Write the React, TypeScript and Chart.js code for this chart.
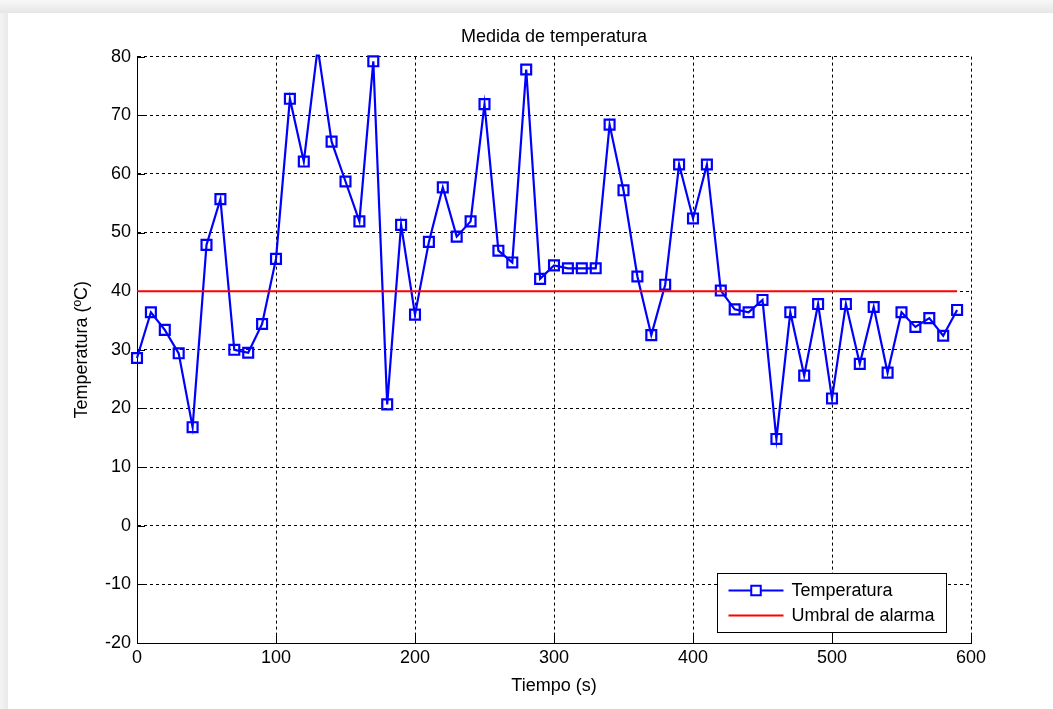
import React, { useEffect, useRef } from 'react';
import { Chart, registerables } from 'chart.js';

Chart.register(...registerables);

const FONT = '"Liberation Sans", Arial, Helvetica, sans-serif';

const times = [
  0, 10, 20, 30, 40, 50, 60, 70, 80, 90,
  100, 110, 120, 130, 140, 150, 160, 170, 180, 190,
  200, 210, 220, 230, 240, 250, 260, 270, 280, 290,
  300, 310, 320, 330, 340, 350, 360, 370, 380, 390,
  400, 410, 420, 430, 440, 450, 460, 470, 480, 490,
  500, 510, 520, 530, 540, 550, 560, 570, 580, 590,
];

const temperatures = [
  28.6, 36.4, 33.4, 29.4, 16.8, 47.9, 55.7, 30.0, 29.5, 34.4,
  45.5, 72.8, 62.1, 81.5, 65.5, 58.7, 51.9, 79.2, 20.7, 51.3,
  36.0, 48.4, 57.7, 49.3, 51.9, 71.9, 46.9, 44.9, 77.8, 42.1,
  44.4, 43.9, 43.9, 43.9, 68.4, 57.2, 42.5, 32.5, 41.1, 61.6,
  52.4, 61.6, 40.1, 36.9, 36.4, 38.5, 14.8, 36.4, 25.6, 37.8,
  21.7, 37.8, 27.6, 37.3, 26.1, 36.4, 33.9, 35.4, 32.4, 36.8,
];

const thresholdTimes = [0, 590];
const thresholdValues = [40, 40];

const seriesLabels = ['Temperatura', 'Umbral de alarma'];
const titleText = 'Medida de temperatura';
const xAxisLabel = 'Tiempo (s)';
const yAxisLabel = 'Temperatura (ºC)';

const xMin = 0, xMax = 600, xStep = 100;
const yMin = -20, yMax = 80, yStep = 10;

const BLUE = '#0000ff';
const RED = '#ff0000';

const ticksPlugin = {
  id: 'matlabTicks',
  beforeDatasetsDraw(chart: any) {
    const { ctx, chartArea, scales } = chart;
    const { left, bottom } = chartArea;
    const x = scales.x, y = scales.y;
    ctx.save();
    ctx.strokeStyle = '#000';
    ctx.lineWidth = 1;
    ctx.setLineDash([]);
    ctx.beginPath();
    x.ticks.forEach((t: any) => {
      const px = Math.round(x.getPixelForValue(t.value)) + 0.5;
      ctx.moveTo(px, bottom);
      ctx.lineTo(px, bottom - 8);
    });
    y.ticks.forEach((t: any) => {
      const py = Math.round(y.getPixelForValue(t.value)) + 0.5;
      ctx.moveTo(left, py);
      ctx.lineTo(left + 8, py);
    });
    ctx.stroke();
    ctx.restore();
  },
};

const legendPlugin = {
  id: 'matlabLegend',
  afterDatasetsDraw(chart: any) {
    const { ctx, chartArea } = chart;
    const { right, bottom } = chartArea;
    const w = 229, h = 59;
    const bx = Math.round(right - 25 - w) + 0.5;
    const by = Math.round(bottom - 11 - h) + 0.5;
    ctx.save();
    ctx.fillStyle = '#fff';
    ctx.fillRect(bx, by, w, h);
    ctx.strokeStyle = '#000';
    ctx.lineWidth = 1;
    ctx.setLineDash([]);
    ctx.strokeRect(bx, by, w, h);

    const ds = chart.data.datasets;
    const rows = [
      { ds: ds[1], y: by + 17 },
      { ds: ds[0], y: by + 42 },
    ];
    rows.forEach((r) => {
      const lx0 = bx + 11, lx1 = bx + 66;
      ctx.strokeStyle = r.ds.borderColor;
      ctx.lineWidth = 2;
      ctx.beginPath();
      ctx.moveTo(lx0, r.y);
      ctx.lineTo(lx1, r.y);
      ctx.stroke();
      if (r.ds.pointRadius > 0) {
        const s = 9.5;
        const cx = (lx0 + lx1) / 2;
        ctx.fillStyle = '#fff';
        ctx.fillRect(cx - s / 2, r.y - s / 2, s, s);
        ctx.strokeRect(cx - s / 2, r.y - s / 2, s, s);
      }
      ctx.fillStyle = '#000';
      ctx.font = `18px ${FONT}`;
      ctx.textBaseline = 'middle';
      ctx.textAlign = 'left';
      ctx.fillText(r.ds.label, bx + 74, r.y + 1);
    });
    ctx.restore();
  },
};

export default function App() {
  const ref = useRef<HTMLCanvasElement | null>(null);

  useEffect(() => {
    if (!ref.current) return;
    const chart = new Chart(ref.current, {
      type: 'line',
      data: {
        datasets: [
          {
            label: seriesLabels[1],
            data: thresholdTimes.map((t, i) => ({ x: t, y: thresholdValues[i] })),
            borderColor: RED,
            backgroundColor: RED,
            borderWidth: 2,
            pointRadius: 0,
            fill: false,
            tension: 0,
            order: 0,
          },
          {
            label: seriesLabels[0],
            data: times.map((t, i) => ({ x: t, y: temperatures[i] })),
            borderColor: BLUE,
            backgroundColor: 'rgba(0,0,0,0)',
            borderWidth: 2.2,
            pointStyle: 'rect',
            pointRadius: 7,
            pointBorderWidth: 2.2,
            pointBorderColor: BLUE,
            pointBackgroundColor: 'rgba(0,0,0,0)',
            fill: false,
            tension: 0,
            order: 1,
            clip: { left: 12, right: 12, top: 2, bottom: 12 },
          },
        ],
      },
      options: {
        animation: false,
        responsive: false,
        maintainAspectRatio: false,
        events: [],
        layout: { padding: { left: 0, right: 82, top: 0, bottom: 0 } },
        plugins: {
          legend: { display: false },
          tooltip: { enabled: false },
          title: {
            display: true,
            text: titleText,
            fullSize: false,
            color: '#000',
            font: { family: FONT, size: 18, weight: 'normal' },
            padding: { top: 26, bottom: 9 },
          },
        },
        scales: {
          x: {
            type: 'linear',
            min: xMin,
            max: xMax,
            afterFit: (s: any) => { s.height = 66; },
            ticks: {
              stepSize: xStep,
              autoSkip: false,
              maxRotation: 0,
              color: '#000',
              padding: 4,
              font: { family: FONT, size: 18 },
            },
            grid: { color: '#000', lineWidth: 1, drawTicks: false },
            border: { display: true, color: '#000', width: 1, dash: [3, 3] },
            title: {
              display: true,
              text: xAxisLabel,
              color: '#000',
              font: { family: FONT, size: 18 },
              padding: { top: 0, bottom: 12 },
            },
          },
          y: {
            type: 'linear',
            min: yMin,
            max: yMax,
            afterFit: (s: any) => { s.width = 137; },
            ticks: {
              stepSize: yStep,
              autoSkip: false,
              color: '#000',
              padding: 6,
              font: { family: FONT, size: 18 },
            },
            grid: { color: '#000', lineWidth: 1, drawTicks: false },
            border: { display: true, color: '#000', width: 1, dash: [3, 3] },
            title: {
              display: true,
              text: yAxisLabel,
              color: '#000',
              font: { family: FONT, size: 18 },
              padding: { top: 71, bottom: 0 },
            },
          },
        },
      },
      plugins: [ticksPlugin, legendPlugin],
    } as any);
    return () => chart.destroy();
  }, []);

  return (
    <div
      style={{
        position: 'fixed',
        left: 0,
        top: 0,
        width: 1053,
        height: 709,
        overflow: 'hidden',
        background: 'linear-gradient(to right, #f4f4f4 0px, #e9e9e9 8px)',
      }}
    >
      <div
        style={{
          position: 'absolute',
          left: 0,
          top: 0,
          right: 0,
          height: 13,
          background: 'linear-gradient(to bottom, #f8f8f8 0px, #e6e6e6 13px)',
        }}
      />
      <div
        style={{
          position: 'absolute',
          left: 8,
          top: 13,
          right: 0,
          bottom: 0,
          background: '#ffffff',
        }}
      />
      <canvas
        ref={ref}
        width={1053}
        height={709}
        style={{ position: 'absolute', left: 0, top: 0, width: 1053, height: 709 }}
      />
    </div>
  );
}
